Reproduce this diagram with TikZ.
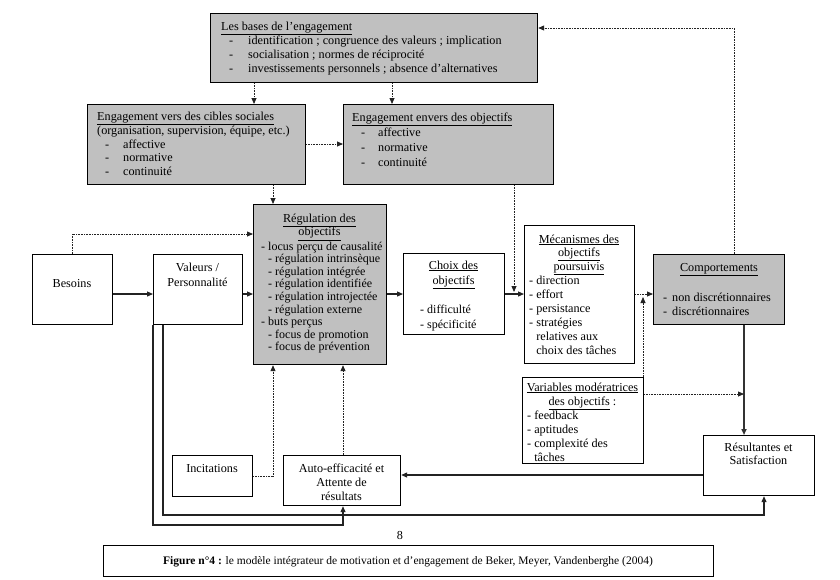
\documentclass[tikz,border=0pt]{standalone}
\usepackage{fontspec}
\setmainfont{Liberation Serif}
\usetikzlibrary{arrows.meta}
\definecolor{boxgray}{RGB}{192,192,192}
\definecolor{lnk}{RGB}{35,35,35}
\begin{document}
\begin{tikzpicture}[x=1pt,y=-1pt,
 box/.style={draw=black,line width=1.2pt,inner sep=0pt,anchor=north west,fill=white},
 gbox/.style={box,fill=boxgray},
 txt/.style={inner sep=0pt,anchor=base west,font=\fontsize{12.2}{14}\selectfont},
 ctxt/.style={inner sep=0pt,anchor=base,font=\fontsize{12.2}{14}\selectfont},
 tip/.style={-{Triangle[length=6pt,width=5pt]}},
 sl/.style={tip,line width=1.2pt,draw=lnk},
 thk/.style={tip,line width=1.8pt,draw=black!80},
 dl/.style={tip,line width=0.8pt,dash pattern=on 0.8pt off 0.8pt,draw=lnk},
]
\fill[white] (0,0) rectangle (840,579);
\useasboundingbox (0,0) rectangle (840,579);

% guide coordinates
\coordinate (xA) at (273,0);
\coordinate (xA0) at (254,0);
\coordinate (xB) at (392,0);
\coordinate (xC) at (514,0);
\coordinate (xD) at (72,0);
\coordinate (xE) at (734,0);
\coordinate (xF) at (744,0);
\coordinate (xG) at (643,0);
\coordinate (xH) at (343,0);
\coordinate (xI) at (153,0);
\coordinate (xJ) at (163,0);
\coordinate (xK) at (764,0);
\coordinate (yA) at (0,144);
\coordinate (yB) at (0,234);
\coordinate (yC) at (0,294);
\coordinate (yC1) at (0,292);
\coordinate (yC2) at (0,297);
\coordinate (yD) at (0,28);
\coordinate (yE) at (0,394);
\coordinate (yF) at (0,475);
\coordinate (yG) at (0,515);
\coordinate (yH) at (0,525);
\coordinate (yI) at (0,476);

% boxes
\node[gbox,minimum width=327pt,minimum height=69pt] (bases) at (210,13) {};
\node[gbox,minimum width=218pt,minimum height=80pt] (cibles) at (87,104) {};
\node[gbox,minimum width=210pt,minimum height=80pt] (envers) at (343,104) {};
\node[gbox,minimum width=133pt,minimum height=160pt] (regul) at (253,204) {};
\node[box,minimum width=80pt,minimum height=70pt] (besoins) at (32,254) {};
\node[box,minimum width=89pt,minimum height=70pt] (valeurs) at (153,254) {};
\node[box,minimum width=101pt,minimum height=81pt] (choix) at (403,253) {};
\node[box,minimum width=110pt,minimum height=138pt] (meca) at (524,225) {};
\node[gbox,minimum width=131pt,minimum height=70pt] (comp) at (653,254) {};
\node[box,minimum width=121pt,minimum height=86pt] (vars) at (522,377) {};
\node[box,minimum width=111pt,minimum height=60pt] (resu) at (703,435) {};
\node[box,minimum width=117pt,minimum height=50pt] (auto) at (283,455) {};
\node[box,minimum width=80pt,minimum height=41pt] (incit) at (172,455) {};
\node[box,line width=1pt,minimum width=610pt,minimum height=31pt] (capbox) at (103,545) {};

% texts
\node[txt] (basesT) at (221,30) {\begin{tabular}[t]{@{}l@{}}\underline{Les bases de l’engagement}\\
\makebox[27pt][l]{\hspace{8pt}-}identification ; congruence des valeurs ; implication\\
\makebox[27pt][l]{\hspace{8pt}-}socialisation ; normes de réciprocité\\
\makebox[27pt][l]{\hspace{8pt}-}investissements personnels ; absence d’alternatives\end{tabular}};

\node[txt,font=\fontsize{12.2}{13.75}\selectfont] (ciblesT) at (97,120) {\begin{tabular}[t]{@{}l@{}}\underline{Engagement vers des cibles sociales}\\
(organisation, supervision, équipe, etc.)\\
\makebox[26pt][l]{\hspace{8pt}-}affective\\
\makebox[26pt][l]{\hspace{8pt}-}normative\\
\makebox[26pt][l]{\hspace{8pt}-}continuité\end{tabular}};

\node[txt,font=\fontsize{12.2}{15}\selectfont] (enversT) at (352,121) {\begin{tabular}[t]{@{}l@{}}\underline{Engagement envers des objectifs}\\
\makebox[26pt][l]{\hspace{9pt}-}affective\\
\makebox[26pt][l]{\hspace{9pt}-}normative\\
\makebox[26pt][l]{\hspace{9pt}-}continuité\end{tabular}};

\node[ctxt,font=\fontsize{12.2}{13}\selectfont] (regulT) at (319.5,222) {\begin{tabular}[t]{@{}c@{}}\underline{Régulation des}\\ \underline{objectifs}\end{tabular}};
\node[txt,font=\fontsize{12}{12.6}\selectfont] (regulI) at (261,250) {\begin{tabular}[t]{@{}l@{}}- locus perçu de causalité\\
\hspace{7pt}- régulation intrinsèque\\
\hspace{7pt}- régulation intégrée\\
\hspace{7pt}- régulation identifiée\\
\hspace{7pt}- régulation introjectée\\
\hspace{7pt}- régulation externe\\
- buts perçus\\
\hspace{7pt}- focus de promotion\\
\hspace{7pt}- focus de prévention\end{tabular}};

\node[ctxt] (besoinsT) at (72,287) {Besoins};
\node[ctxt,font=\fontsize{12.2}{15}\selectfont] (valeursT) at (197.5,271) {\begin{tabular}[t]{@{}c@{}}Valeurs /\\ Personnalité\end{tabular}};

\node[ctxt,font=\fontsize{12.2}{15}\selectfont] (choixT) at (453.5,269) {\begin{tabular}[t]{@{}c@{}}\underline{Choix des}\\ \underline{objectifs}\end{tabular}};
\node[txt,font=\fontsize{12}{15}\selectfont] (choixI) at (420,313) {\begin{tabular}[t]{@{}l@{}}- difficulté\\ - spécificité\end{tabular}};

\node[ctxt,font=\fontsize{12.2}{13.5}\selectfont] (mecaT) at (579,243) {\begin{tabular}[t]{@{}c@{}}\underline{Mécanismes des}\\ \underline{objectifs}\\ \underline{poursuivis}\end{tabular}};
\node[txt] (mecaI) at (529,284) {\begin{tabular}[t]{@{}l@{}}- direction\\ - effort\\ - persistance\\ - stratégies\\ \phantom{- }relatives aux\\ \phantom{- }choix des tâches\end{tabular}};

\node[ctxt] (compT) at (719,271) {\underline{Comportements}};
\node[txt] (compI) at (663,301) {\begin{tabular}[t]{@{}l@{}}\makebox[9pt][l]{-}non discrétionnaires\\ \makebox[9pt][l]{-}discrétionnaires\end{tabular}};

\node[ctxt] (varsT) at (582.5,391) {\begin{tabular}[t]{@{}c@{}}\underline{Variables modératrices}\\ \underline{des objectifs} :\end{tabular}};
\node[txt] (varsI) at (527,419) {\begin{tabular}[t]{@{}l@{}}- feedback\\ - aptitudes\\ - complexité des\\ \phantom{- }tâches\end{tabular}};

\node[ctxt,font=\fontsize{12.2}{13.5}\selectfont] (resuT) at (758.5,451) {\begin{tabular}[t]{@{}c@{}}Résultantes et\\ Satisfaction\end{tabular}};
\node[ctxt] (autoT) at (341.5,472) {\begin{tabular}[t]{@{}c@{}}Auto-efficacité et\\ Attente de\\ résultats\end{tabular}};
\node[ctxt] (incitT) at (212,472) {Incitations};

\node[ctxt,font=\fontsize{12.2}{13}\selectfont] (pagenum) at (400,539) {8};
\node[ctxt,font=\fontsize{11.5}{13}\selectfont] (capT) at (408,564) {\textbf{Figure n°4 :} le modèle intégrateur de motivation et d’engagement de Beker, Meyer, Vandenberghe (2004)};

% connectors
\draw[dl] (bases.south -| xA0) -- (cibles.north -| xA0);
\draw[dl] (bases.south -| xB) -- (envers.north -| xB);
\draw[dl] (cibles.east |- yA) -- (envers.west |- yA);
\draw[dl] (cibles.south -| xA) -- (regul.north -| xA);
\draw[dl] (envers.south -| xC) -- (xC |- yC1);
\draw[dl] (besoins.north -| xD) |- (regul.west |- yB);
\draw[sl] (besoins.east |- yC) -- (valeurs.west |- yC);
\draw[sl] (valeurs.east |- yC) -- (regul.west |- yC);
\draw[sl] (regul.east |- yC) -- (choix.west |- yC);
\draw[sl] (choix.east |- yC) -- (meca.west |- yC);
\draw[dl] (meca.east |- yC) -- (comp.west |- yC);
\draw[dl] (vars.north -| xG) -- (xG |- yC2);
\draw[dl] (comp.north -| xE) |- (bases.east |- yD);
\draw[thk] (comp.south -| xF) -- (resu.north -| xF);
\draw[dl] (vars.east |- yE) -- (xF |- yE);
\draw[sl] (resu.west |- yF) -- (auto.east |- yF);
\draw[sl] (valeurs.south -| xJ) |- (xK |- yG) -- (resu.south -| xK);
\draw[sl] (valeurs.south -| xI) |- (xH |- yH) -- (auto.south -| xH);
\draw[dl] (incit.east |- yI) -| (regul.south -| xA);
\draw[dl] (auto.north -| xH) -- (regul.south -| xH);
\end{tikzpicture}
\end{document}
